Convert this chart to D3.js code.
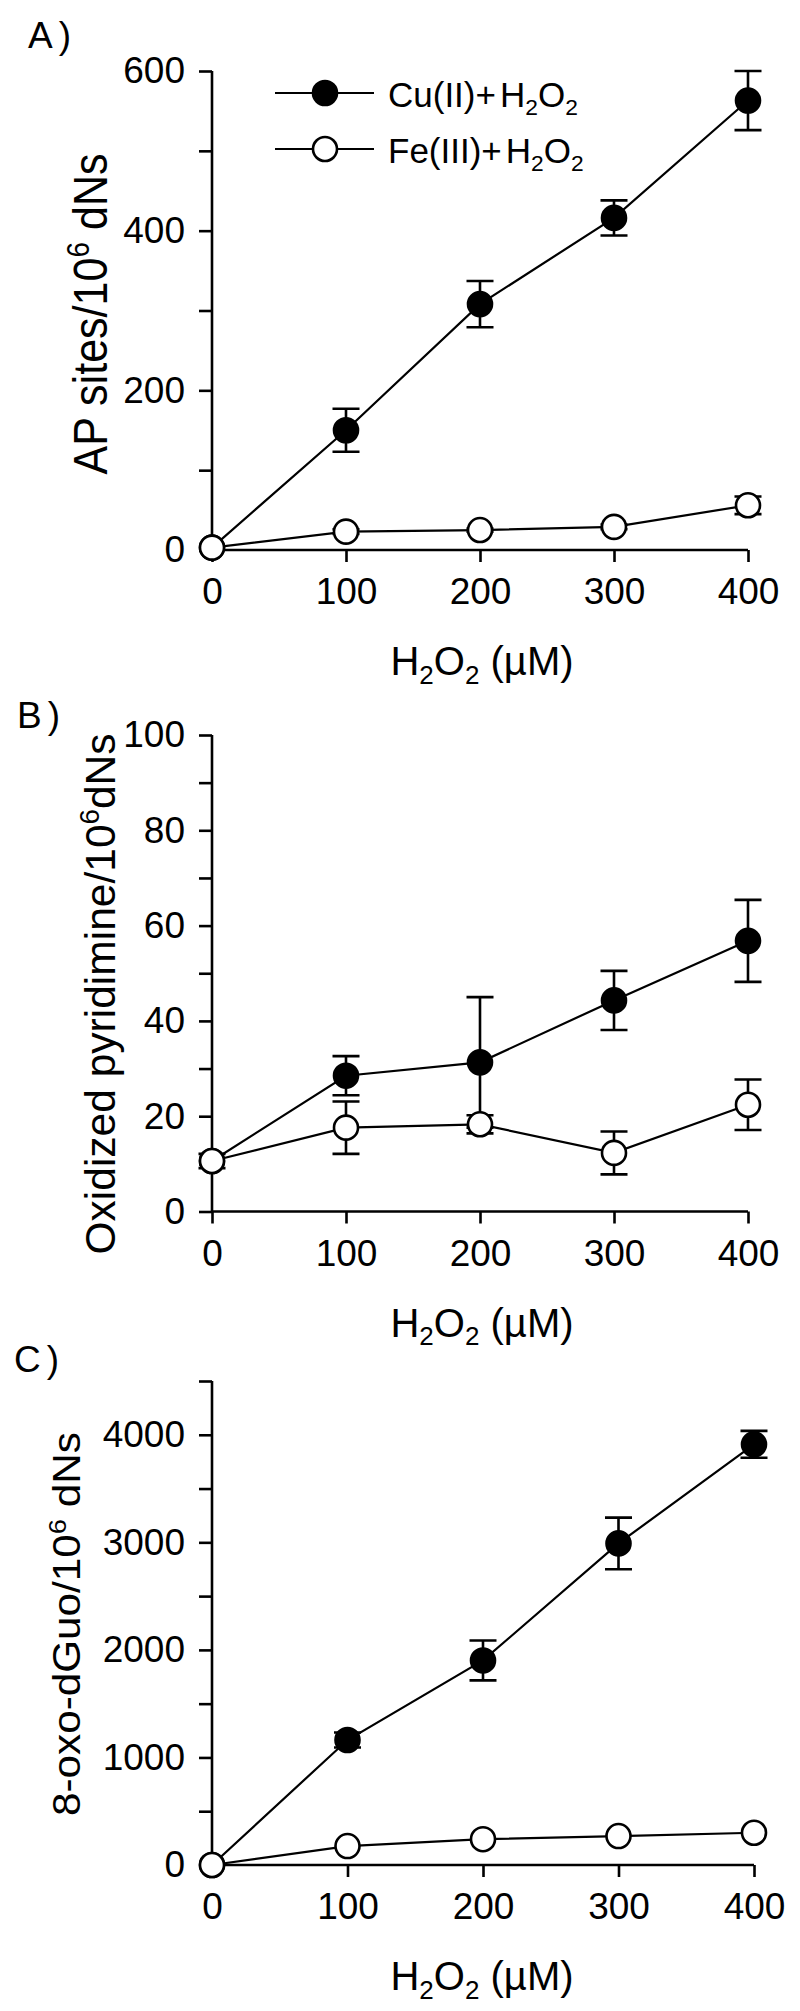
<!DOCTYPE html>
<html><head><meta charset="utf-8">
<script src="https://cdn.jsdelivr.net/npm/d3@7"></script>
<style>body{margin:0;background:#fff}svg{display:block}text{font-family:"Liberation Sans",Arial,sans-serif;fill:#000}</style>
</head><body>
<script>
// ---- data ----
const doses = [0, 100, 200, 300, 400];
const xTicks = [0, 100, 200, 300, 400];

const apCu = [3, 150, 308, 416, 563];
const apCuErr = [0, 27, 29, 22, 37];
const apFe = [3, 23, 25, 29, 56];
const apFeErr = [0, 3, 2, 3, 11];
const apTicks = [0, 100, 200, 300, 400, 500, 600];
const apLabels = [0, 200, 400, 600];

const pyCu = [10.6, 28.5, 31.3, 44.3, 56.8];
const pyCuErr = [0, 4.1, 13.7, 6.2, 8.6];
const pyFe = [10.6, 17.6, 18.3, 12.3, 22.4];
const pyFeErr = [1.5, 5.5, 1.9, 4.5, 5.3];
const pyTicks = [0, 10, 20, 30, 40, 50, 60, 70, 80, 90, 100];
const pyLabels = [0, 20, 40, 60, 80, 100];

const oxoCu = [0, 1162, 1902, 2990, 3911];
const oxoCuErr = [0, 70, 185, 240, 125];
const oxoFe = [0, 176, 240, 269, 300];
const oxoFeErr = [0, 0, 0, 0, 0];
const oxoTicks = [0, 500, 1000, 1500, 2000, 2500, 3000, 3500, 4000, 4500];
const oxoLabels = [0, 1000, 2000, 3000, 4000];

const seriesNames = ["Cu(II)+H2O2", "Fe(III)+H2O2"];

// ---- drawing ----
const W = 800, H = 2011;
const svg = d3.select("body").append("svg").attr("width", W).attr("height", H);

function rich(sel, parts, fs) {
  // parts: [text, mode] mode: 0 normal, 1 sub, 2 sup
  let shift = 0;
  parts.forEach(([t, m]) => {
    const target = m === 1 ? fs * 0.22 : m === 2 ? -fs * 0.38 : 0;
    sel.append("tspan").attr("dy", target - shift)
      .attr("font-size", m ? fs * 0.65 : fs).text(t);
    shift = target;
  });
}

const h2o2 = [["H",0],["2",1],["O",0],["2",1],[" (\u00B5M)",0]];

function panel(cfg) {
  const x = d3.scaleLinear().domain([0, 400]).range([212, cfg.xr]);
  const y = d3.scaleLinear().domain(cfg.ydom).range([cfg.y0, cfg.ytop]);
  const g = svg.append("g");

  // axes
  const yAx = d3.axisLeft(y).tickValues(cfg.ticks).tickSize(13)
    .tickFormat(d => cfg.labels.includes(d) ? d : "");
  const ya = g.append("g").attr("transform", "translate(212,0)").call(yAx);
  ya.select(".domain").attr("d", `M0,${cfg.y0}V${cfg.ytop}`);
  ya.selectAll("text").attr("x", -27).attr("font-size", 37).attr("font-family", null);
  const xAx = d3.axisBottom(x).tickValues(xTicks).tickSize(12).tickPadding(16);
  const xa = g.append("g").attr("transform", `translate(0,${cfg.y0})`).call(xAx);
  xa.select(".domain").attr("d", `M${x(0)},0H${x(400)}`);
  xa.selectAll("text").attr("font-size", 37).attr("font-family", null).attr("dy", "0.71em");
  g.selectAll(".domain, .tick line").attr("stroke", "#000").attr("stroke-width", 2.6);

  // axis title
  const xt = g.append("text").attr("x", 482).attr("y", cfg.y0 + 125)
    .attr("text-anchor", "middle");
  rich(xt, h2o2, 40);

  // y title
  const yt = g.append("text").attr("text-anchor", "middle")
    .attr("transform", `translate(${cfg.ytx},${cfg.ytcy}) rotate(-90)`);
  rich(yt, cfg.ytitle, cfg.ytfs);
  yt.attr("textLength", cfg.ytlen).attr("lengthAdjust", "spacingAndGlyphs");

  // panel letter
  const lt = g.append("text").attr("x", cfg.lx).attr("y", cfg.ly).attr("font-size", 37);
  lt.append("tspan").text(cfg.letter[0]);
  lt.append("tspan").attr("dx", 6).text(cfg.letter.slice(1));

  const line = d3.line().x((d, i) => x(doses[i])).y(d => y(d));
  const series = [
    {v: cfg.cu, e: cfg.cuErr, fill: "#000"},
    {v: cfg.fe, e: cfg.feErr, fill: "#fff"}
  ];
  series.forEach(s => {
    g.append("path").attr("d", line(s.v)).attr("fill", "none")
      .attr("stroke", "#000").attr("stroke-width", 2.2);
  });
  series.forEach(s => {
    s.v.forEach((v, i) => {
      if (!s.e[i]) return;
      const cx = x(doses[i]), hi = y(v + s.e[i]), lo = y(v - s.e[i]);
      g.append("path").attr("d", `M${cx},${hi}V${lo}M${cx-13.5},${hi}H${cx+13.5}M${cx-13.5},${lo}H${cx+13.5}`)
        .attr("stroke", "#000").attr("stroke-width", 2.6).attr("fill", "none");
    });
  });
  series.forEach(s => {
    g.selectAll(null).data(s.v).enter().append("circle")
      .attr("cx", (d, i) => x(doses[i])).attr("cy", d => y(d)).attr("r", 12)
      .attr("fill", s.fill).attr("stroke", "#000").attr("stroke-width", 2.6);
  });
  return {x, y, g};
}

panel({xr: 748, ydom: [0, 600], y0: 550, ytop: 71, ticks: apTicks, labels: apLabels,
  cu: apCu, cuErr: apCuErr, fe: apFe, feErr: apFeErr,
  ytitle: [["AP sites/10",0],["6",2],[" dNs",0]], ytx: 107, ytcy: 314, ytfs: 48, ytlen: 321,
  letter: "A)", lx: 28, ly: 48});

panel({xr: 748, ydom: [0, 100], y0: 1211.5, ytop: 735, ticks: pyTicks, labels: pyLabels,
  cu: pyCu, cuErr: pyCuErr, fe: pyFe, feErr: pyFeErr,
  ytitle: [["Oxidized pyridimine/10",0],["6",2],["dNs",0]], ytx: 115, ytcy: 994, ytfs: 43, ytlen: 521,
  letter: "B)", lx: 17, ly: 728});

panel({xr: 754, ydom: [0, 4500], y0: 1865, ytop: 1381, ticks: oxoTicks, labels: oxoLabels,
  cu: oxoCu, cuErr: oxoCuErr, fe: oxoFe, feErr: oxoFeErr,
  ytitle: [["8-oxo-dGuo/10",0],["6",2],[" dNs",0]], ytx: 80, ytcy: 1624, ytfs: 38, ytlen: 384,
  letter: "C)", lx: 14, ly: 1372});

// legend (panel A)
const leg = svg.append("g");
[93, 149].forEach((ly, k) => {
  leg.append("line").attr("x1", 275).attr("x2", 374).attr("y1", ly).attr("y2", ly)
    .attr("stroke", "#000").attr("stroke-width", 2.2);
  leg.append("circle").attr("cx", 325).attr("cy", ly).attr("r", 12)
    .attr("fill", k === 0 ? "#000" : "#fff").attr("stroke", "#000").attr("stroke-width", 2.6);
  const t = leg.append("text").attr("x", 388).attr("y", ly + 14);
  const base = seriesNames[k].replace("+H2O2", "+");
  rich(t, [[base,0],["H",0],["2",1],["O",0],["2",1]], 35);
  t.select("tspan:nth-child(2)").attr("dx", 4);
});
</script>
</body></html>
